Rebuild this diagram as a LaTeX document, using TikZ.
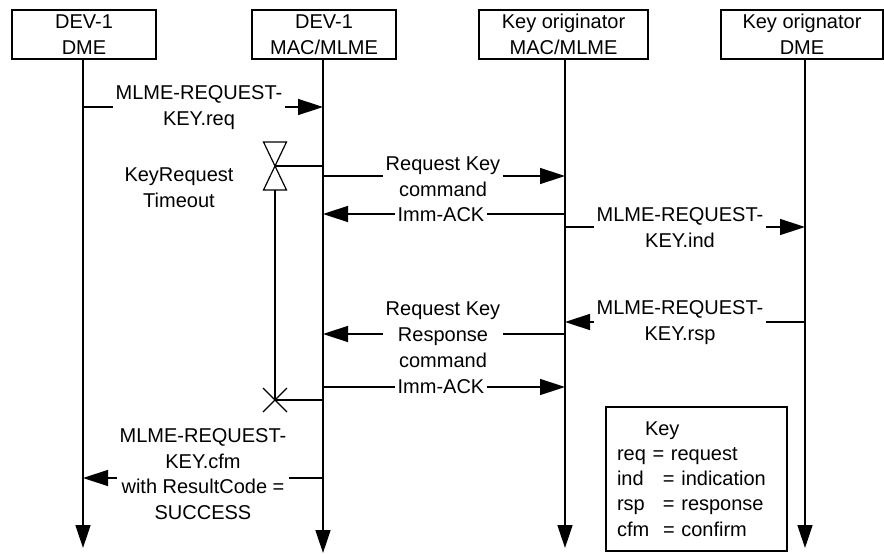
\documentclass[tikz,border=0pt]{standalone}
\usepackage{fontspec}
\setmainfont{Liberation Sans}
\usetikzlibrary{arrows.meta}
\tikzset{
  ent/.style  = {draw, line width=1.5pt, minimum width=144pt, minimum height=49pt,
                 inner sep=0pt, align=center},
  life/.style = {line width=1.5pt, -{Triangle[length=23pt,width=15pt]}},
  msg/.style  = {line width=1.5pt, -{Triangle[length=25pt,width=16pt]}},
  lbl/.style  = {fill=white, inner sep=3pt, align=center},
}
\newcommand{\keyab}[1]{\makebox[46pt][l]{#1}}

\begin{document}
\begin{tikzpicture}[
    x=1pt, y=-1pt,
    every node/.style={font=\fontsize{20}{26}\selectfont},
    tmr/.style={line width=1.2pt}
]
\useasboundingbox (0,0) rectangle (884,554);

% entities
\node[ent] (b1) at (84,34.5) {DEV-1\\DME};
\node[ent] (b2) at (324,34.5) {DEV-1\\MAC/MLME};
\node[ent, minimum width=169pt] (b3) at (563.5,34.5) {Key originator\\MAC/MLME};
\node[ent, minimum width=162pt] (b4) at (802,34.5) {Key orignator\\DME};

% lifelines
\coordinate (e1) at (83,548);
\coordinate (e2) at (323,553);
\coordinate (e3) at (565,548);
\coordinate (e4) at (805,548);
\foreach \b/\e in {b1/e1,b2/e2,b3/e3,b4/e4} {
    \draw[life] (\b.south -| \e) -- (\e);
}

% message rows
\coordinate (mreq) at (0,107);
\coordinate (mcmd) at (0,176);
\coordinate (mack) at (0,214);
\coordinate (mind) at (0,227);
\coordinate (mrsp) at (0,322);
\coordinate (mres) at (0,334);
\coordinate (mack2) at (0,387);
\coordinate (mcfm) at (0,478);

\draw[msg] (mreq -| e1) -- (mreq -| e2);
\draw[msg] (mcmd -| e2) -- (mcmd -| e3);
\draw[msg] (mack -| e3) -- (mack -| e2);
\draw[msg] (mind -| e3) -- (mind -| e4);
\draw[msg] (mrsp -| e4) -- (mrsp -| e3);
\draw[msg] (mres -| e3) -- (mres -| e2);
\draw[msg] (mack2 -| e2) -- (mack2 -| e3);
\draw[msg] (mcfm -| e2) -- (mcfm -| e1);

\node[lbl] (req) at (199,108) {MLME-REQUEST-\\KEY.req};
\node[lbl] (cmd) at (443,177) {Request Key\\command};
\node[lbl] (ack) at (441,215) {Imm-ACK};
\node[lbl] (ind) at (680,228) {MLME-REQUEST-\\KEY.ind};
\node[lbl] (rsp) at (680,322.5) {MLME-REQUEST-\\KEY.rsp};
\node[lbl] (res) at (443,335) {Request Key\\Response\\command};
\node[lbl] (ack2) at (441,387) {Imm-ACK};
\node[lbl, font=\fontsize{20}{25.7}\selectfont] (cfm) at (203,474) {MLME-REQUEST-\\KEY.cfm\\with ResultCode =\\SUCCESS};

% timer
\coordinate (tm) at (275,166);
\coordinate (tb) at (275,190);
\coordinate (tx) at (275,400);
\draw[tmr, shift={(tm)}] (-11.5,-24) -- (11.5,-24) -- (-11.5,24) -- (11.5,24) -- cycle;
\draw[line width=1.5pt] (tm) -- (tm -| e2);
\draw[line width=1.5pt] (tb) -- (tx);
\draw[line width=1.5pt] (tx) -- (tx -| e2);
\draw[tmr, shift={(tx)}] (-12,-12) -- (12,12) (-12,12) -- (12,-12);
\node[align=center] (tout) at (179,188) {KeyRequest\\Timeout};

% key
\node[draw, line width=1.5pt, font=\fontsize{20}{25.2}\selectfont, text width=159pt,
      inner xsep=11pt, minimum height=144pt, align=left] (key) at (696.5,479)
  {\hspace*{28pt}Key\\
   req = request\\
   \keyab{ind}= indication\\
   \keyab{rsp}= response\\
   \keyab{cfm}= confirm};

\end{tikzpicture}
\end{document}
